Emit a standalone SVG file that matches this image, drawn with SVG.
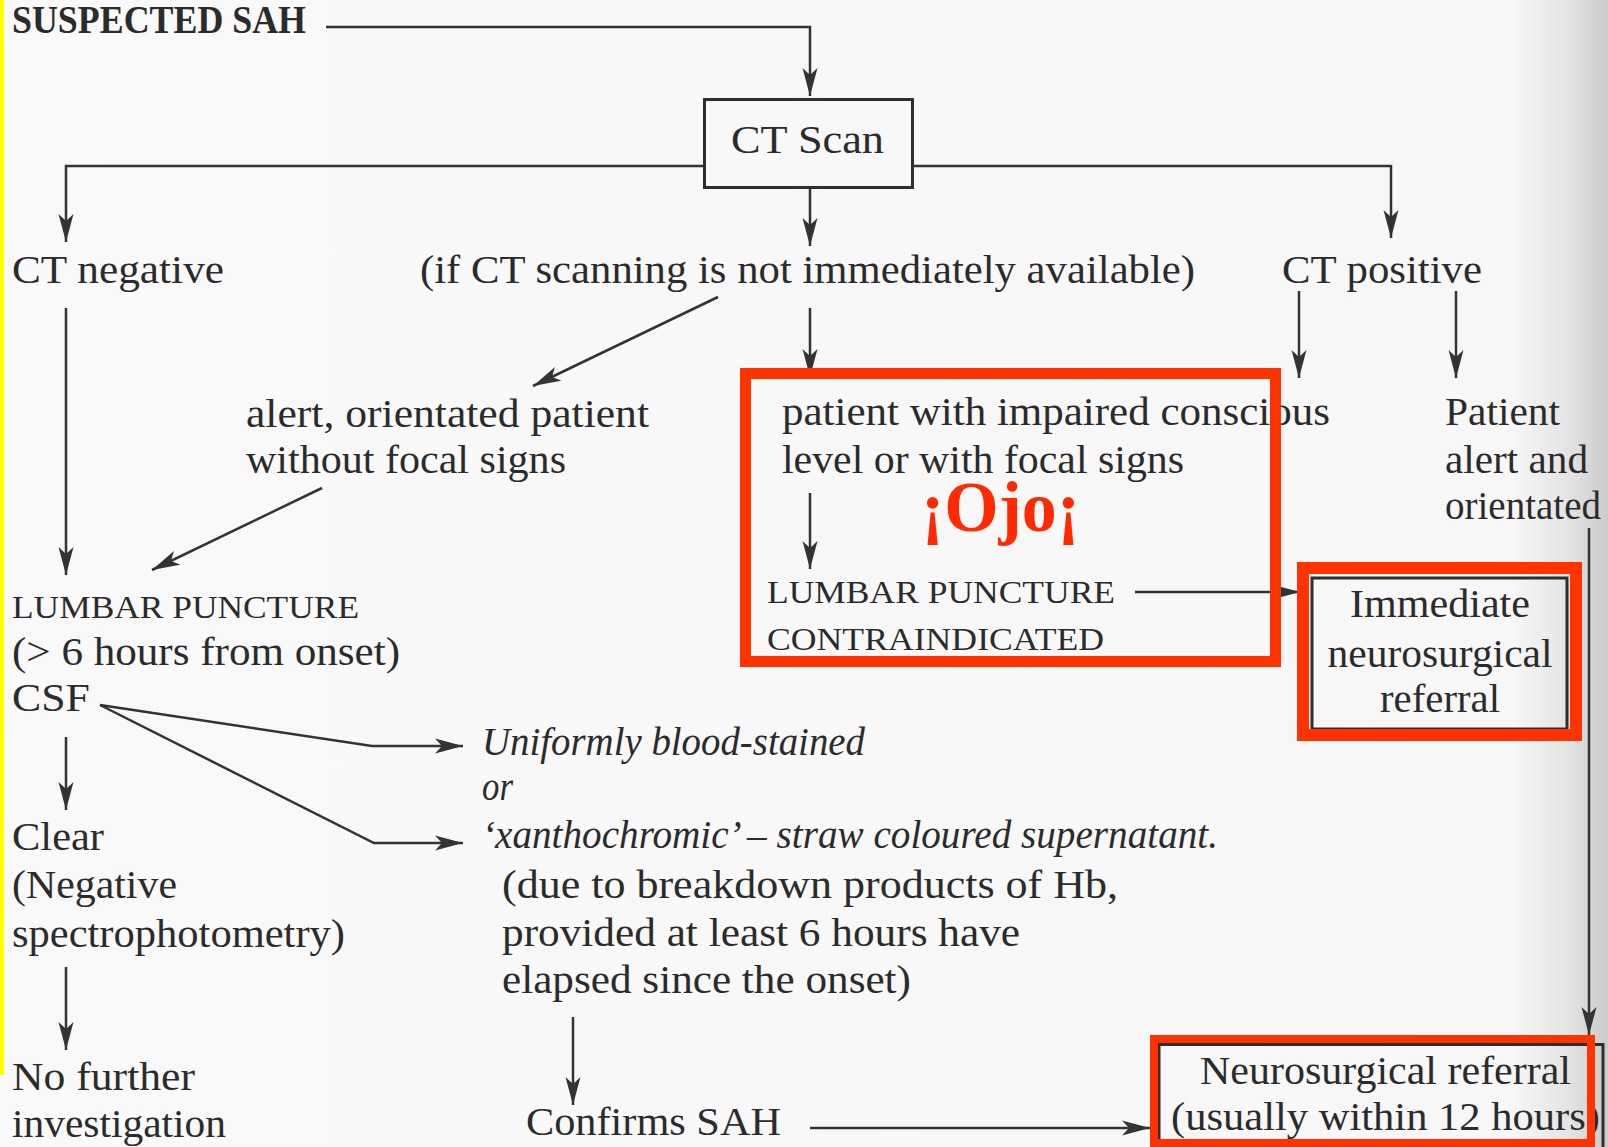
<svg xmlns="http://www.w3.org/2000/svg" width="1608" height="1147" viewBox="0 0 1608 1147">
<defs>
<linearGradient id="page" x1="0" y1="0" x2="1608" y2="0" gradientUnits="userSpaceOnUse">
<stop offset="0" stop-color="#f9f9f9"/>
<stop offset="0.94" stop-color="#f7f7f7"/>
<stop offset="0.975" stop-color="#e4e4e4"/>
<stop offset="1" stop-color="#cbcbcb"/>
</linearGradient>
<marker id="ah" markerUnits="userSpaceOnUse" markerWidth="28" markerHeight="16" viewBox="0 0 28 16" refX="28" refY="8" orient="auto">
<path d="M0,0.5 L28,8 L0,15.5 L7,8 z" fill="#333"/>
</marker>
<style>
text{font-family:"Liberation Serif","Times New Roman",serif;fill:#2b2b2b;font-size:40px}
.b{font-weight:bold}
.sc{font-size:31px}
.it{font-style:italic}
.mid{text-anchor:middle}
.ojo{font-weight:bold;fill:#ff2a00;font-size:72px}
.cn path{fill:none;stroke:#333;stroke-width:2.5;marker-end:url(#ah)}
.box{fill:none;stroke:#2e2e2e;stroke-width:3}
.red{fill:none;stroke:#ff3300}
</style>
</defs>
<rect x="0" y="0" width="1608" height="1147" fill="url(#page)"/>
<rect x="0" y="0" width="4" height="1075" fill="#ffff00"/>

<g id="connectors" class="cn">
<path d="M326,27 H810 V96"/>
<path d="M703,166 H66 V242"/>
<path d="M810,189 V246"/>
<path d="M914,166 H1391 V238"/>
<path d="M66,308 V575"/>
<path d="M718,297 L533,386"/>
<path d="M810,308 V377"/>
<path d="M1299,291 V378"/>
<path d="M1456,291 V378"/>
<path d="M322,488 L152,570"/>
<path d="M810,493 V569"/>
<path d="M1135,592 H1300"/>
<path d="M1589,528 V1035"/>
<path d="M100,705 L372,746 H463"/>
<path d="M100,705 L374,843 H463"/>
<path d="M66,737 V810"/>
<path d="M66,967 V1050"/>
<path d="M573,1017 V1105"/>
<path d="M810,1128 H1150"/>
</g>

<g id="suspected-sah"><text class="b" x="12" y="33" font-size="28" textLength="294" lengthAdjust="spacingAndGlyphs">SUSPECTED SAH</text></g>

<g id="ct-scan">
<rect class="box" x="704.5" y="99.5" width="208" height="88"/>
<text x="731" y="153" textLength="153" lengthAdjust="spacingAndGlyphs">CT Scan</text>
</g>

<g id="ct-negative"><text x="12" y="283" textLength="212" lengthAdjust="spacingAndGlyphs">CT negative</text></g>
<g id="ct-not-available"><text x="420" y="283" textLength="775" lengthAdjust="spacingAndGlyphs">(if CT scanning is not immediately available)</text></g>
<g id="ct-positive"><text x="1282" y="283" textLength="200" lengthAdjust="spacingAndGlyphs">CT positive</text></g>

<g id="alert-patient">
<text x="246" y="427" textLength="403" lengthAdjust="spacingAndGlyphs">alert, orientated patient</text>
<text x="246" y="473" textLength="320" lengthAdjust="spacingAndGlyphs">without focal signs</text>
</g>

<g id="impaired-patient">
<text x="782" y="425" textLength="548" lengthAdjust="spacingAndGlyphs">patient with impaired conscious</text>
<text x="782" y="473" textLength="402" lengthAdjust="spacingAndGlyphs">level or with focal signs</text>
</g>

<g id="patient-alert">
<text x="1445" y="425" textLength="115" lengthAdjust="spacingAndGlyphs">Patient</text>
<text x="1445" y="473" textLength="143" lengthAdjust="spacingAndGlyphs">alert and</text>
<text x="1445" y="519" textLength="156" lengthAdjust="spacingAndGlyphs">orientated</text>
</g>

<g id="lumbar-puncture">
<text class="sc" x="12" y="618" textLength="347" lengthAdjust="spacingAndGlyphs">LUMBAR PUNCTURE</text>
<text x="12" y="665" textLength="388" lengthAdjust="spacingAndGlyphs">(&gt; 6 hours from onset)</text>
</g>

<g id="csf"><text x="12" y="711" textLength="78" lengthAdjust="spacingAndGlyphs">CSF</text></g>

<g id="lp-contraindicated">
<text class="sc" x="767" y="603" textLength="348" lengthAdjust="spacingAndGlyphs">LUMBAR PUNCTURE</text>
<text class="sc" x="767" y="650" textLength="337" lengthAdjust="spacingAndGlyphs">CONTRAINDICATED</text>
</g>

<g id="immediate-referral">
<rect class="box" x="1312" y="578" width="255" height="151" stroke-width="2.5"/>
<text class="mid" x="1440" y="617" textLength="180" lengthAdjust="spacingAndGlyphs">Immediate</text>
<text class="mid" x="1440" y="667" textLength="225" lengthAdjust="spacingAndGlyphs">neurosurgical</text>
<text class="mid" x="1440" y="712" textLength="120" lengthAdjust="spacingAndGlyphs">referral</text>
</g>

<g id="blood-stained">
<text class="it" x="482" y="755" textLength="383" lengthAdjust="spacingAndGlyphs">Uniformly blood-stained</text>
<text class="it" x="482" y="800" textLength="31" lengthAdjust="spacingAndGlyphs">or</text>
<text class="it" x="482" y="848" textLength="736" lengthAdjust="spacingAndGlyphs">‘xanthochromic’ – straw coloured supernatant.</text>
<text x="502" y="898" textLength="616" lengthAdjust="spacingAndGlyphs">(due to breakdown products of Hb,</text>
<text x="502" y="946" textLength="518" lengthAdjust="spacingAndGlyphs">provided at least 6 hours have</text>
<text x="502" y="993" textLength="409" lengthAdjust="spacingAndGlyphs">elapsed since the onset)</text>
</g>

<g id="clear">
<text x="12" y="850" textLength="92" lengthAdjust="spacingAndGlyphs">Clear</text>
<text x="12" y="898" textLength="165" lengthAdjust="spacingAndGlyphs">(Negative</text>
<text x="12" y="947" textLength="333" lengthAdjust="spacingAndGlyphs">spectrophotometry)</text>
</g>

<g id="no-further">
<text x="12" y="1090" textLength="183" lengthAdjust="spacingAndGlyphs">No further</text>
<text x="12" y="1137" textLength="214" lengthAdjust="spacingAndGlyphs">investigation</text>
</g>

<g id="confirms-sah"><text x="526" y="1135" textLength="255" lengthAdjust="spacingAndGlyphs">Confirms SAH</text></g>

<g id="neurosurgical-referral">
<rect class="box" x="1159" y="1044.5" width="444" height="120" stroke-width="2.5"/>
<text x="1200" y="1084" textLength="371" lengthAdjust="spacingAndGlyphs">Neurosurgical referral</text>
<text x="1171" y="1130" textLength="429" lengthAdjust="spacingAndGlyphs">(usually within 12 hours)</text>
</g>

<g id="ojo-highlight">
<rect class="red" x="745.5" y="373.5" width="530" height="288" stroke-width="11"/>
<text class="ojo" x="921" y="531" textLength="159" lengthAdjust="spacingAndGlyphs">¡Ojo¡</text>
</g>
<g id="immediate-highlight"><rect class="red" x="1303" y="568" width="273" height="167" stroke-width="12"/></g>
<g id="referral-highlight"><rect class="red" x="1154" y="1039" width="437" height="104" stroke-width="8"/></g>
</svg>
